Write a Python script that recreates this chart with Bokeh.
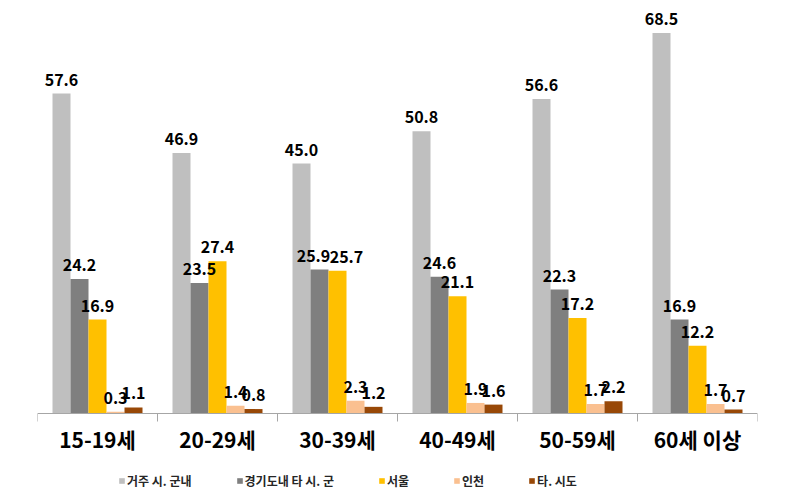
from bokeh.plotting import figure
from bokeh.models import ColumnDataSource, FixedTicker, Legend, LegendItem, Range1d
from bokeh.core.properties import value
from bokeh.embed import file_html
from bokeh.resources import INLINE

groups = ["15-19세", "20-29세", "30-39세", "40-49세", "50-59세", "60세 이상"]
series_names = ["거주 시. 군내", "경기도내 타 시. 군", "서울", "인천", "타. 시도"]
local = [57.6, 46.9, 45.0, 50.8, 56.6, 68.5]
other_gg = [24.2, 23.5, 25.9, 24.6, 22.3, 16.9]
seoul = [16.9, 27.4, 25.7, 21.1, 17.2, 12.2]
incheon = [0.3, 1.4, 2.3, 1.9, 1.7, 1.7]
other_sido = [1.1, 0.8, 1.2, 1.6, 2.2, 0.7]

series = [local, other_gg, seoul, incheon, other_sido]
colors = ["#BFBFBF", "#7F7F7F", "#FFC000", "#FAC090", "#984807"]
offsets = [-0.3, -0.15, 0.0, 0.15, 0.3]

# small manual nudges (pixels) for data labels that would collide: (series, group) -> dx
label_dx = {(1, 2): -6, (2, 2): 9}

FONT = "Noto Sans CJK KR"

PX_PER_UNIT = 320 / 57.6
p = figure(frame_width=720, frame_height=485, min_border_left=37, min_border_right=34,
           min_border_top=10, min_border_bottom=0,
           output_backend="svg", toolbar_location=None,
           x_range=Range1d(0, 6), y_range=Range1d(-82 / PX_PER_UNIT, 403 / PX_PER_UNIT))
p.outline_line_color = None
p.grid.visible = False
p.yaxis.visible = False
p.background_fill_color = "white"
p.border_fill_color = "white"

centers = [i + 0.5 for i in range(len(groups))]
renderers = []
sources = []
for si, (vals, col, off, name) in enumerate(zip(series, colors, offsets, series_names)):
    src = ColumnDataSource(dict(x=[c + off for c in centers], top=vals,
                                label=[f"{v:.1f}" for v in vals],
                                dx=[label_dx.get((si, gi), 0) for gi in range(len(vals))]))
    sources.append(src)
    r = p.vbar(x="x", top="top", width=0.15, source=src, fill_color=col, line_color=None)
    renderers.append((name, r))

for src in sources:
    p.text(x="x", y="top", text="label", source=src, text_align="center",
           text_baseline="bottom", y_offset=-8, x_offset="dx", text_font=value(FONT),
           text_font_style="bold", text_font_size="16px", text_color="black")

ax = p.xaxis[0]
ax.fixed_location = 0
ax.ticker = FixedTicker(ticks=centers, minor_ticks=list(range(7)))
ax.major_label_overrides = {c: g for c, g in zip(centers, groups)}
ax.major_tick_out = 0
ax.major_tick_in = 0
ax.minor_tick_out = 8
ax.minor_tick_in = 0
ax.minor_tick_line_color = "#A6A6A6"
ax.axis_line_color = "#A6A6A6"
ax.major_label_text_font = FONT
ax.major_label_text_font_style = "bold"
ax.major_label_text_font_size = "21px"
ax.major_label_text_color = "black"
ax.major_label_standoff = 2

legend = Legend(items=[LegendItem(label=n, renderers=[r]) for n, r in renderers],
                orientation="horizontal", location=(81, 6),
                label_text_font=FONT, label_text_font_size="12px",
                label_text_font_style="bold",
                label_text_color="#262626", glyph_width=7, glyph_height=7,
                spacing=44, label_standoff=2, padding=2, margin=0,
                border_line_color=None, background_fill_alpha=0)
p.add_layout(legend, "center")

open("out.html", "w").write(file_html(p, INLINE))
